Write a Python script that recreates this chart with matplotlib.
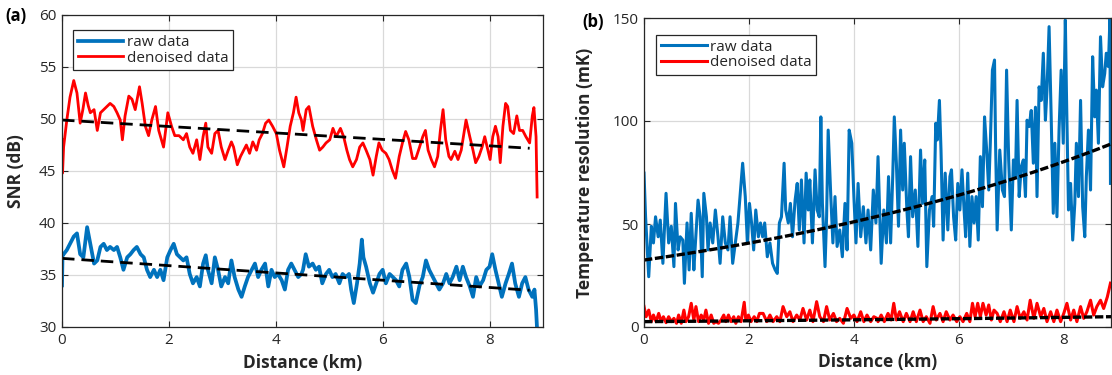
import numpy as np
import matplotlib
matplotlib.use("Agg")
import matplotlib.pyplot as plt

plt.rcParams['font.family'] = ['Open Sans', 'DejaVu Sans']

# ---------------- data ----------------
# Panel (a): SNR (dB) vs distance (km), pairs (km, dB)
snr_denoised = [
    (0.00, 48.0), (0.01, 44.8), (0.03, 47.3), (0.09, 49.9), (0.15, 52.1), (0.22, 53.7), (0.28, 52.5),
    (0.34, 49.6), (0.39, 50.9), (0.44, 52.5), (0.49, 51.3), (0.53, 50.6), (0.60, 50.9), (0.66, 48.9),
    (0.72, 50.6), (0.78, 50.9), (0.84, 51.2), (0.90, 51.5), (0.97, 51.2), (1.03, 50.6), (1.09, 49.9),
    (1.13, 48.0), (1.18, 50.3), (1.25, 52.2), (1.31, 51.9), (1.37, 50.9), (1.45, 53.1), (1.50, 51.5),
    (1.56, 49.3), (1.62, 48.4), (1.68, 49.9), (1.75, 51.2), (1.81, 48.9), (1.90, 47.3), (1.98, 50.6),
    (2.05, 49.3), (2.11, 48.4), (2.19, 48.4), (2.27, 48.0), (2.33, 48.6), (2.39, 47.3), (2.45, 46.7),
    (2.52, 48.0), (2.58, 46.1), (2.64, 48.3), (2.69, 49.6), (2.73, 47.3), (2.80, 46.7), (2.86, 48.6),
    (2.92, 48.9), (2.98, 47.3), (3.05, 46.1), (3.11, 47.0), (3.17, 47.8), (3.21, 47.3), (3.28, 45.6),
    (3.34, 46.4), (3.40, 47.0), (3.45, 47.5), (3.51, 46.7), (3.57, 47.8), (3.64, 47.0), (3.69, 48.0),
    (3.75, 48.6), (3.81, 49.6), (3.87, 49.9), (3.94, 49.3), (4.01, 48.6), (4.07, 47.0), (4.15, 45.4),
    (4.21, 47.3), (4.27, 49.3), (4.33, 50.6), (4.38, 52.1), (4.43, 50.6), (4.48, 49.9), (4.51, 48.9),
    (4.57, 50.9), (4.62, 51.2), (4.69, 49.3), (4.76, 48.0), (4.82, 47.0), (4.88, 47.3), (4.94, 47.7),
    (5.01, 48.0), (5.07, 49.1), (5.13, 48.3), (5.21, 49.1), (5.27, 48.3), (5.33, 47.0), (5.38, 46.1),
    (5.44, 45.4), (5.51, 46.1), (5.57, 47.3), (5.63, 47.7), (5.69, 47.0), (5.76, 46.1), (5.82, 44.6),
    (5.88, 46.4), (5.93, 47.7), (5.99, 47.0), (6.06, 46.7), (6.12, 46.1), (6.18, 45.1), (6.24, 44.3),
    (6.31, 46.4), (6.37, 47.7), (6.43, 48.8), (6.49, 48.0), (6.56, 46.2), (6.62, 46.2), (6.69, 47.3),
    (6.75, 48.3), (6.80, 48.9), (6.85, 47.0), (6.91, 46.1), (6.97, 45.4), (7.03, 46.4), (7.08, 48.9),
    (7.13, 50.9), (7.18, 48.0), (7.24, 46.4), (7.28, 46.1), (7.35, 46.9), (7.41, 46.1), (7.47, 47.0),
    (7.51, 48.3), (7.56, 49.9), (7.63, 48.3), (7.69, 47.0), (7.74, 45.8), (7.80, 46.4), (7.86, 47.3),
    (7.91, 48.3), (7.97, 47.0), (8.01, 46.1), (8.06, 48.3), (8.11, 49.3), (8.16, 48.3), (8.20, 45.8),
    (8.25, 49.3), (8.30, 51.5), (8.34, 51.2), (8.39, 48.9), (8.45, 48.6), (8.51, 50.3), (8.56, 48.9),
    (8.62, 48.9), (8.68, 48.3), (8.75, 47.7), (8.80, 50.3), (8.83, 51.1), (8.87, 48.3), (8.89, 42.5),
]
snr_raw = [
    (0.00, 34.0), (0.01, 37.0), (0.03, 37.0), (0.09, 37.4), (0.15, 38.0), (0.22, 38.7), (0.28, 39.0),
    (0.34, 37.0), (0.40, 36.7), (0.47, 39.6), (0.53, 38.0), (0.60, 36.1), (0.66, 36.4), (0.72, 37.7),
    (0.78, 38.0), (0.84, 37.4), (0.90, 37.7), (0.97, 37.4), (1.03, 37.7), (1.09, 36.7), (1.15, 35.5),
    (1.22, 36.7), (1.28, 37.0), (1.34, 37.4), (1.40, 37.7), (1.47, 37.0), (1.53, 36.7), (1.59, 35.5),
    (1.65, 34.8), (1.72, 35.5), (1.78, 34.8), (1.84, 35.5), (1.90, 34.5), (1.97, 36.7), (2.03, 37.4),
    (2.09, 38.0), (2.15, 37.0), (2.21, 36.7), (2.27, 36.4), (2.33, 36.7), (2.39, 35.1), (2.45, 34.2),
    (2.52, 34.8), (2.58, 33.9), (2.64, 36.1), (2.69, 36.9), (2.73, 35.5), (2.80, 34.2), (2.86, 36.7),
    (2.92, 35.5), (2.98, 33.9), (3.05, 34.8), (3.11, 34.2), (3.17, 36.4), (3.23, 34.8), (3.30, 33.6),
    (3.36, 32.9), (3.42, 33.9), (3.48, 34.8), (3.55, 35.5), (3.61, 36.1), (3.67, 34.8), (3.73, 35.5),
    (3.80, 36.1), (3.86, 33.9), (3.92, 35.5), (3.98, 34.8), (4.04, 35.1), (4.11, 34.5), (4.17, 33.6),
    (4.23, 35.5), (4.29, 36.1), (4.35, 35.5), (4.42, 34.8), (4.48, 35.1), (4.51, 35.5), (4.56, 37.0),
    (4.62, 35.8), (4.69, 36.1), (4.75, 35.5), (4.81, 35.8), (4.87, 34.2), (4.94, 35.1), (5.00, 35.5),
    (5.06, 34.8), (5.12, 35.1), (5.19, 34.2), (5.25, 35.1), (5.31, 34.8), (5.37, 35.1), (5.41, 33.6),
    (5.46, 32.3), (5.52, 34.2), (5.57, 36.1), (5.61, 38.4), (5.64, 36.7), (5.69, 35.8), (5.76, 34.2),
    (5.82, 33.3), (5.88, 34.2), (5.94, 35.1), (6.00, 35.5), (6.06, 34.2), (6.13, 35.1), (6.19, 34.8),
    (6.25, 34.5), (6.31, 33.9), (6.37, 35.5), (6.44, 36.1), (6.50, 34.8), (6.56, 32.6), (6.62, 32.3),
    (6.69, 34.0), (6.75, 34.8), (6.81, 36.4), (6.87, 35.5), (6.94, 34.8), (7.00, 34.2), (7.06, 33.6),
    (7.13, 34.2), (7.19, 35.1), (7.25, 34.2), (7.31, 34.8), (7.38, 35.8), (7.44, 34.5), (7.50, 35.8),
    (7.56, 34.8), (7.63, 33.9), (7.69, 32.9), (7.75, 34.8), (7.81, 33.9), (7.88, 34.5), (7.94, 35.5),
    (8.00, 35.8), (8.05, 37.0), (8.11, 35.5), (8.17, 34.2), (8.23, 32.9), (8.30, 34.2), (8.36, 35.1),
    (8.42, 36.1), (8.48, 34.2), (8.55, 32.9), (8.61, 34.2), (8.67, 34.8), (8.73, 33.6), (8.80, 32.9),
    (8.84, 33.6), (8.87, 31.7), (8.89, 29.7),
]
# linear fits (intercept dB, slope dB/km), drawn over 0..8.75 km
snr_denoised_fit = (49.9, -0.31)
snr_raw_fit = (36.6, -0.35)
snr_fit_range = (0.0, 8.75)

# Panel (b): temperature resolution (mK) vs distance (km)
temp_raw = [
    (0.00, 74.7), (0.03, 53.5), (0.09, 24.4), (0.14, 48.9), (0.18, 40.8), (0.22, 53.5), (0.27, 43.8),
    (0.31, 51.9), (0.36, 30.9), (0.42, 64.9), (0.47, 40.8), (0.52, 48.9), (0.57, 29.3), (0.60, 60.0),
    (0.65, 37.4), (0.69, 43.8), (0.74, 42.2), (0.77, 21.2), (0.82, 50.5), (0.86, 27.7), (0.90, 55.2),
    (0.95, 27.7), (0.98, 40.8), (1.03, 61.6), (1.07, 53.5), (1.11, 24.4), (1.14, 64.9), (1.19, 53.5),
    (1.22, 37.4), (1.26, 50.5), (1.31, 40.8), (1.36, 56.8), (1.41, 43.8), (1.45, 30.9), (1.50, 53.5),
    (1.55, 40.8), (1.60, 37.4), (1.64, 53.5), (1.69, 30.9), (1.74, 40.8), (1.79, 50.5), (1.84, 66.5),
    (1.88, 79.5), (1.93, 63.3), (1.97, 40.8), (2.01, 60.0), (2.05, 50.5), (2.09, 37.4), (2.13, 56.8),
    (2.18, 43.8), (2.22, 50.5), (2.26, 43.8), (2.30, 50.5), (2.35, 34.1), (2.40, 40.8), (2.45, 30.9),
    (2.50, 27.7), (2.54, 26.0), (2.58, 50.5), (2.62, 53.5), (2.67, 79.5), (2.70, 56.8), (2.75, 50.5),
    (2.79, 60.0), (2.83, 43.8), (2.88, 61.6), (2.92, 69.7), (2.96, 47.1), (3.00, 71.4), (3.05, 40.8),
    (3.09, 74.7), (3.13, 56.8), (3.16, 71.4), (3.21, 40.8), (3.26, 76.3), (3.30, 56.8), (3.34, 53.5),
    (3.37, 102.0), (3.40, 60.0), (3.45, 29.3), (3.48, 53.5), (3.51, 95.6), (3.56, 63.3), (3.60, 40.8),
    (3.64, 63.3), (3.68, 39.1), (3.73, 47.1), (3.78, 34.1), (3.83, 60.0), (3.87, 37.4), (3.91, 95.6),
    (3.96, 89.2), (4.00, 63.3), (4.04, 40.8), (4.08, 69.7), (4.13, 43.8), (4.18, 58.4), (4.23, 40.8),
    (4.27, 56.8), (4.32, 37.4), (4.37, 66.5), (4.42, 50.5), (4.46, 82.7), (4.49, 56.8), (4.52, 30.9),
    (4.57, 56.8), (4.62, 40.8), (4.66, 73.0), (4.70, 40.8), (4.74, 73.0), (4.77, 102.0), (4.81, 79.5),
    (4.85, 48.9), (4.89, 95.6), (4.93, 66.5), (4.96, 89.2), (5.01, 56.8), (5.04, 43.8), (5.08, 82.7),
    (5.12, 53.5), (5.17, 66.5), (5.22, 39.1), (5.27, 85.9), (5.31, 60.0), (5.35, 81.1), (5.39, 29.3),
    (5.44, 56.8), (5.49, 63.3), (5.52, 48.9), (5.56, 98.9), (5.59, 90.8), (5.63, 110.0), (5.66, 85.9),
    (5.70, 42.2), (5.74, 74.7), (5.79, 47.1), (5.83, 73.0), (5.86, 76.3), (5.90, 53.5), (5.94, 42.2),
    (5.98, 69.7), (6.02, 56.8), (6.06, 76.3), (6.10, 56.8), (6.13, 43.8), (6.17, 74.7), (6.21, 39.1),
    (6.25, 63.3), (6.29, 50.5), (6.33, 63.3), (6.37, 42.2), (6.41, 82.7), (6.45, 58.4), (6.49, 102.0),
    (6.53, 85.9), (6.57, 66.5), (6.60, 89.2), (6.64, 124.7), (6.68, 129.6), (6.70, 89.2), (6.73, 47.1),
    (6.78, 85.9), (6.83, 66.5), (6.87, 63.3), (6.91, 124.7), (6.95, 81.1), (7.00, 47.1), (7.04, 81.1),
    (7.08, 73.0), (7.11, 110.0), (7.15, 63.3), (7.19, 77.9), (7.23, 81.1), (7.27, 63.3), (7.30, 100.4),
    (7.34, 97.3), (7.38, 105.1), (7.42, 79.5), (7.46, 106.7), (7.49, 63.3), (7.53, 116.6), (7.57, 110.0),
    (7.61, 132.9), (7.65, 100.4), (7.68, 115.0), (7.72, 145.8), (7.76, 102.0), (7.80, 55.2), (7.83, 89.2),
    (7.87, 53.5), (7.91, 95.6), (7.95, 124.7), (7.99, 89.2), (8.03, 149.0), (8.05, 115.0), (8.09, 56.8),
    (8.13, 69.7), (8.17, 42.2), (8.21, 60.0), (8.24, 89.2), (8.28, 63.3), (8.32, 110.0), (8.36, 58.4),
    (8.40, 43.8), (8.43, 73.0), (8.47, 95.6), (8.51, 66.5), (8.55, 131.2), (8.59, 102.0), (8.62, 115.0),
    (8.66, 89.2), (8.70, 140.9), (8.74, 116.6), (8.78, 123.0), (8.81, 132.9), (8.85, 126.4), (8.88, 150.0),
    (8.89, 69.7),
]
temp_denoised = [
    (0.00, 10.0), (0.04, 5.0), (0.09, 8.2), (0.14, 2.6), (0.18, 5.8), (0.23, 2.6), (0.28, 6.6),
    (0.33, 2.6), (0.37, 5.0), (0.42, 2.1), (0.47, 5.0), (0.52, 2.6), (0.57, 4.2), (0.62, 1.8),
    (0.66, 5.8), (0.71, 1.8), (0.76, 8.2), (0.80, 2.6), (0.85, 5.0), (0.90, 11.5), (0.95, 3.4),
    (0.99, 9.9), (1.04, 2.6), (1.09, 5.8), (1.14, 3.4), (1.18, 8.2), (1.23, 1.8), (1.28, 5.8),
    (1.33, 1.8), (1.37, 2.6), (1.42, 1.8), (1.47, 3.4), (1.52, 5.8), (1.56, 2.6), (1.61, 5.8),
    (1.66, 2.6), (1.71, 5.0), (1.75, 1.8), (1.80, 5.0), (1.85, 2.6), (1.91, 12.0), (1.94, 3.4),
    (1.99, 5.8), (2.04, 2.6), (2.10, 5.0), (2.15, 2.6), (2.20, 6.6), (2.27, 6.6), (2.34, 2.6),
    (2.40, 5.8), (2.46, 2.6), (2.53, 5.0), (2.59, 2.6), (2.65, 9.9), (2.72, 5.0), (2.78, 7.4),
    (2.84, 2.6), (2.91, 5.8), (2.97, 3.4), (3.03, 9.0), (3.10, 3.4), (3.16, 8.2), (3.22, 2.6),
    (3.29, 12.3), (3.35, 5.0), (3.42, 2.6), (3.48, 9.9), (3.54, 3.4), (3.61, 6.6), (3.67, 2.6),
    (3.73, 4.2), (3.80, 1.8), (3.87, 9.0), (3.94, 4.2), (4.00, 5.8), (4.06, 2.6), (4.13, 7.4),
    (4.19, 2.6), (4.25, 5.8), (4.32, 2.6), (4.38, 5.0), (4.44, 4.2), (4.46, 2.6), (4.52, 5.8),
    (4.58, 2.6), (4.65, 6.6), (4.71, 3.4), (4.76, 11.5), (4.81, 3.4), (4.87, 7.4), (4.94, 2.6),
    (5.00, 6.6), (5.07, 2.6), (5.13, 7.4), (5.19, 2.6), (5.26, 8.2), (5.32, 2.6), (5.38, 5.0),
    (5.45, 1.8), (5.51, 9.9), (5.57, 3.4), (5.64, 6.6), (5.70, 2.6), (5.76, 7.4), (5.83, 3.4),
    (5.89, 5.8), (5.96, 2.6), (6.02, 5.0), (6.08, 2.6), (6.15, 6.6), (6.21, 2.6), (6.26, 11.5),
    (6.31, 5.0), (6.36, 11.5), (6.41, 5.0), (6.46, 11.5), (6.52, 5.8), (6.57, 10.7), (6.62, 3.4),
    (6.67, 8.2), (6.73, 6.6), (6.79, 2.6), (6.86, 7.4), (6.92, 2.6), (6.98, 8.2), (7.05, 2.6),
    (7.11, 9.9), (7.17, 4.2), (7.24, 7.4), (7.30, 3.4), (7.36, 13.0), (7.43, 4.2), (7.49, 11.5),
    (7.56, 5.0), (7.62, 9.0), (7.68, 2.6), (7.75, 7.4), (7.81, 2.6), (7.87, 8.2), (7.94, 2.6),
    (8.00, 6.6), (8.06, 11.5), (8.13, 3.4), (8.19, 8.2), (8.25, 2.6), (8.32, 9.9), (8.38, 4.2),
    (8.44, 7.4), (8.51, 13.0), (8.57, 5.8), (8.63, 9.9), (8.70, 13.0), (8.76, 9.0), (8.83, 14.6),
    (8.89, 21.3),
]
# exponential fits  a * exp(b * km), drawn over 0..8.9 km
temp_raw_fit = (32.5, 0.113)
temp_denoised_fit = (2.6, 0.0735)
temp_fit_range = (0.0, 8.9)

snr_yticks = [30, 35, 40, 45, 50, 55, 60]
temp_yticks = [0, 50, 100, 150]
km_ticks = [0, 2, 4, 6, 8]
legend_labels = ["raw data", "denoised data"]

# ---------------- styling ----------------
BLUE = "#0072BD"
RED = "#FF0000"
DARK = "#262626"
W, H = 1112, 375

fig = plt.figure(figsize=(W / 100, H / 100), dpi=100)
ax1 = fig.add_axes([62 / W, 1 - 327 / H, (543 - 62) / W, (327 - 15) / H])
ax2 = fig.add_axes([644 / W, 1 - 327 / H, (1111 - 644) / W, (327 - 18) / H])


def style(ax):
    ax.grid(True, color="#d9d9d9", lw=0.9)
    ax.set_axisbelow(True)
    ax.tick_params(direction="in", top=True, right=True, length=4, width=0.8,
                   color=DARK, labelcolor=DARK, labelsize=11, pad=4)
    for s in ax.spines.values():
        s.set_color(DARK)
        s.set_linewidth(0.9)


def split(pairs):
    a = np.array(pairs)
    return a[:, 0], a[:, 1]


# ---- panel (a)
x, y = split(snr_raw)
ax1.plot(x, y, color=BLUE, lw=2.7, label=legend_labels[0], solid_joinstyle="round")
x, y = split(snr_denoised)
ax1.plot(x, y, color=RED, lw=2.0, label=legend_labels[1], solid_joinstyle="round")
xf = np.linspace(*snr_fit_range, 50)
for a, b in (snr_denoised_fit, snr_raw_fit):
    ax1.plot(xf, a + b * xf, color="black", lw=2.0, dashes=(4.5, 2.5))
ax1.set_xlim(0, 9)
ax1.set_ylim(30, 60)
ax1.set_xticks(km_ticks)
ax1.set_yticks(snr_yticks)
style(ax1)
ax1.set_xlabel("Distance (km)", fontsize=12.5, fontweight="bold", color=DARK)
ax1.set_ylabel("SNR (dB)", fontsize=12.5, fontweight="bold", color=DARK)
ax1.xaxis.set_label_coords(0.5, -0.085)
ax1.yaxis.set_label_coords(-0.077, 0.5)
leg = ax1.legend(loc="upper left", bbox_to_anchor=(0.023, 0.951), borderaxespad=0,
                 fancybox=False, framealpha=1, edgecolor=DARK, fontsize=11,
                 handlelength=3.0, handletextpad=0.2, labelspacing=0.05, borderpad=0.3)
leg.get_frame().set_linewidth(0.9)
for t in leg.get_texts():
    t.set_color(DARK)

# ---- panel (b)
x, y = split(temp_raw)
ax2.plot(x, y, color=BLUE, lw=2.2, label=legend_labels[0])
x, y = split(temp_denoised)
ax2.plot(x, y, color=RED, lw=2.2, label=legend_labels[1])
xf = np.linspace(*temp_fit_range, 100)
for a, b in (temp_raw_fit, temp_denoised_fit):
    ax2.plot(xf, a * np.exp(b * xf), color="black", lw=2.4, dashes=(2.5, 0.8))
ax2.set_xlim(0, 8.9)
ax2.set_ylim(0, 150)
ax2.set_xticks(km_ticks)
ax2.set_yticks(temp_yticks)
style(ax2)
ax2.set_xlabel("Distance (km)", fontsize=12.5, fontweight="bold", color=DARK)
ax2.set_ylabel("Temperature resolution (mK)", fontsize=12.5, fontweight="bold", color=DARK)
ax2.xaxis.set_label_coords(0.5, -0.085)
ax2.yaxis.set_label_coords(-0.107, 0.5)
leg = ax2.legend(loc="upper left", bbox_to_anchor=(0.026, 0.945), borderaxespad=0,
                 fancybox=False, framealpha=1, edgecolor=DARK, fontsize=11,
                 handlelength=3.0, handletextpad=0.2, labelspacing=0.05, borderpad=0.3)
leg.get_frame().set_linewidth(0.9)
for t in leg.get_texts():
    t.set_color(DARK)

fig.text(5 / W, 1 - 16 / H, "(a)", fontsize=12, fontweight="bold", va="center", ha="left")
fig.text(582 / W, 1 - 22 / H, "(b)", fontsize=12, fontweight="bold", va="center", ha="left")

fig.savefig("out.png", dpi=100)
